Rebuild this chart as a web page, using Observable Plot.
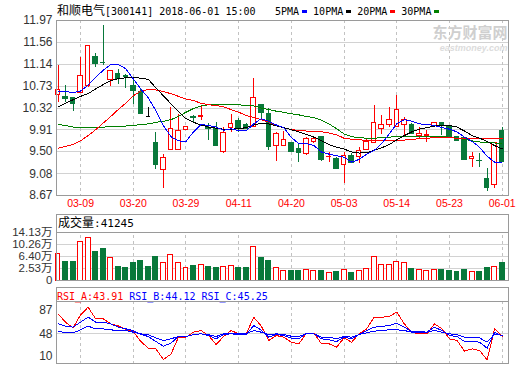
<!DOCTYPE html>
<html>
<head>
<meta charset="utf-8">
<script src="https://cdn.jsdelivr.net/npm/d3@7"></script>
<script src="https://cdn.jsdelivr.net/npm/@observablehq/plot@0.6"></script>
<style>
html,body{margin:0;padding:0;background:#fff;}
#chart{position:relative;width:520px;height:365px;overflow:hidden;background:#fff;}
.hdr{position:absolute;white-space:pre;color:#000;line-height:14px;z-index:5;}
.cjk{font-family:"Noto Sans CJK SC",sans-serif;font-size:12px;}
.mono{font-family:"DejaVu Sans Mono",monospace;font-size:10px;}
</style>
</head>
<body>
<div id="chart"></div>
<script>
// ---------- data ----------
const stockName = "和顺电气";
const stockCode = "300141";
const stamp = "2018-06-01 15:00";
const dates = ["03-06","03-07","03-08","03-09","03-12","03-13","03-14","03-15","03-16","03-19",
  "03-20","03-21","03-22","03-23","03-26","03-27","03-28","03-29","03-30","04-02",
  "04-03","04-04","04-09","04-10","04-11","04-12","04-13","04-16","04-17","04-18",
  "04-19","04-20","04-23","04-24","04-25","04-26","04-27","05-02","05-03","05-04",
  "05-07","05-08","05-09","05-10","05-11","05-14","05-15","05-16","05-17","05-18",
  "05-21","05-22","05-23","05-24","05-25","05-28","05-29","05-30","05-31","06-01"];
const opens = [10.557,10.525,10.506,10.607,10.726,11.279,11.17,10.852,10.965,10.92,
  10.726,10.62,10.16,9.665,9.143,9.52,9.52,9.91,10.15,10.15,
  9.94,9.916,9.489,9.947,10.067,10.004,9.96,10.368,10.211,9.602,
  9.602,9.665,9.539,9.457,9.677,9.772,9.39,9.351,9.238,9.413,
  9.395,9.52,9.665,9.929,10.004,9.96,10.004,9.991,9.784,9.80,
  9.972,10.042,9.96,9.772,9.753,9.351,9.325,8.986,8.86,9.885];
const highs = [11.122,10.745,10.51,11.28,11.48,11.35,11.876,11.01,11.04,10.95,
  10.90,10.68,10.337,9.853,9.445,10.337,10.199,9.98,10.18,10.35,
  10.02,10.04,9.96,10.199,10.117,10.02,10.871,10.37,10.305,9.866,
  9.885,9.665,9.646,9.772,9.784,9.78,9.489,9.395,9.489,9.457,
  9.57,9.721,10.368,10.18,10.337,10.557,10.136,10.023,9.96,9.897,
  10.05,10.05,9.97,9.78,9.76,9.476,9.47,9.175,9.66,9.96];
const lows = [10.431,10.43,10.255,10.59,10.70,11.09,11.12,10.726,10.764,10.68,
  10.387,10.199,10.16,9.156,8.798,9.52,9.52,9.90,10.05,10.09,
  9.71,9.60,9.457,9.853,9.866,9.92,9.96,10.117,9.52,9.319,
  9.60,9.48,9.30,9.426,9.646,9.319,9.30,9.156,8.892,9.27,
  9.282,9.52,9.665,9.822,9.96,9.96,9.803,9.822,9.74,9.677,
  9.96,9.803,9.76,9.69,9.34,9.194,9.206,8.754,8.798,9.30];
const closes = [10.663,10.494,10.40,10.915,11.48,11.153,11.16,11.009,10.87,10.90,
  10.632,10.199,10.16,9.238,9.382,9.916,9.885,9.97,10.14,10.16,
  9.92,9.602,9.847,10.023,9.929,9.929,10.513,10.224,9.583,9.822,
  9.709,9.489,9.47,9.74,9.74,9.332,9.40,9.175,9.413,9.282,
  9.508,9.677,10.042,10.004,10.086,10.274,10.098,9.834,9.834,9.81,
  10.042,9.991,9.772,9.696,9.344,9.395,9.315,8.81,9.658,9.30];
// volume, 万
const volumes = [7.20,4.43,4.43,11.15,12.33,7.63,8.70,5.71,3.14,2.61,
  4.21,4.75,3.14,6.03,4.11,6.67,4.32,2.82,3.46,3.68,
  3.14,2.82,3.04,3.36,2.82,2.61,9.44,5.81,4.75,2.82,
  1.86,1.86,1.86,2.08,1.86,1.86,1.12,1.54,2.08,1.12,
  1.86,2.50,6.24,3.78,3.78,4.64,4.32,2.50,2.08,1.86,
  2.18,2.18,1.86,1.54,2.18,1.44,1.54,2.61,3.14,4.12];
const ma5 = [10.63,10.63,10.61,10.64,10.75,10.90,11.03,11.14,11.14,11.06,
  10.87,10.68,10.51,10.27,9.99,9.78,9.70,9.69,9.87,10.01,
  9.99,9.96,9.90,9.93,9.89,9.89,10.02,10.12,10.07,10.00,
  9.95,9.76,9.65,9.65,9.61,9.49,9.45,9.42,9.39,9.30,
  9.35,9.45,9.52,9.65,9.83,10.02,10.10,10.07,10.02,10.01,
  9.99,9.95,9.92,9.87,9.77,9.69,9.58,9.41,9.30,9.30];
const ma10 = [10.34,10.41,10.475,10.54,10.59,10.68,10.76,10.84,10.87,10.89,
  10.90,10.88,10.86,10.70,10.55,10.40,10.25,10.12,10.05,10.00,
  9.96,9.94,9.92,9.92,9.93,9.95,10.00,10.035,10.02,9.985,
  9.95,9.91,9.87,9.82,9.77,9.70,9.63,9.58,9.545,9.49,
  9.47,9.48,9.52,9.57,9.63,9.72,9.80,9.87,9.92,9.95,
  9.98,10.00,9.99,9.96,9.885,9.80,9.75,9.69,9.61,9.55];
const ma20 = [9.56,9.595,9.63,9.70,9.80,9.91,10.035,10.16,10.29,10.41,
  10.55,10.64,10.67,10.66,10.63,10.59,10.54,10.49,10.46,10.41,
  10.38,10.37,10.34,10.29,10.24,10.18,10.14,10.10,10.055,9.99,
  9.95,9.91,9.90,9.885,9.88,9.87,9.85,9.815,9.75,9.73,
  9.72,9.71,9.70,9.70,9.70,9.71,9.715,9.73,9.74,9.75,
  9.76,9.76,9.76,9.75,9.75,9.74,9.74,9.74,9.74,9.74];
const ma30 = [10.01,9.99,9.96,9.95,9.95,9.95,9.96,9.965,9.97,9.98,
  9.99,10.01,10.02,10.05,10.07,10.10,10.16,10.24,10.31,10.36,
  10.38,10.39,10.39,10.39,10.38,10.37,10.36,10.32,10.29,10.26,
  10.24,10.21,10.19,10.16,10.14,10.09,10.02,9.93,9.83,9.78,
  9.76,9.75,9.75,9.76,9.77,9.78,9.79,9.79,9.79,9.79,
  9.79,9.79,9.77,9.75,9.73,9.70,9.68,9.665,9.66,9.66];
const rsiA = [81.4,67.5,58.0,79.7,92.6,73.0,73.0,64.7,61.3,55.2,
  51.8,35.1,23.9,22.8,5.0,13.9,42.4,42.4,50.7,53.5,
  45.1,30.1,43.5,53.5,47.9,47.9,75.8,60.8,36.8,45.1,
  42.4,34.0,31.2,49.0,49.0,31.2,31.2,25.6,41.2,34.0,
  47.9,56.3,75.8,75.8,77.0,84.2,64.7,50.7,47.9,47.9,
  64.7,56.3,39.6,36.8,18.9,22.8,20.0,4.4,56.3,43.91];
const rsiB = [64.7,60.8,59.1,67.5,75.8,67.5,67.5,64.7,59.1,56.3,
  53.5,46.8,43.5,35.1,27.3,32.3,43.5,43.5,46.8,47.9,
  45.1,39.6,46.8,47.9,46.8,46.8,61.9,54.1,42.4,46.8,
  45.1,40.7,39.6,49.0,47.9,39.6,37.9,35.1,42.4,39.6,
  46.8,53.5,59.1,60.2,61.9,65.8,59.1,51.8,51.8,50.7,
  59.1,53.5,45.1,43.5,35.1,35.1,34.0,23.9,50.7,44.12];
const rsiC = [52.4,49.6,49.6,54.6,60.8,56.3,56.3,54.6,53.5,53.5,
  50.7,47.9,46.3,41.2,36.8,39.6,43.5,43.5,46.8,47.9,
  46.3,43.5,47.9,47.9,47.9,47.9,53.5,50.7,46.3,47.9,
  46.8,44.0,43.5,47.9,47.9,42.4,42.4,39.6,43.5,42.4,
  46.8,49.6,52.4,53.5,54.6,54.6,53.5,50.7,50.7,50.7,
  53.5,50.7,47.9,46.3,42.4,42.4,41.2,34.0,47.9,45.25];
const priceTicks = [8.67,9.08,9.50,9.91,10.32,10.73,11.14,11.56,11.97];
const volFloor = -1.34;               // bottom of the volume scale (labelled "0")
const volTicks = [2.53,6.40,10.26,14.13];
const rsiTicks = [10,48,87];
const dateTicks = ["03-09","03-20","03-29","04-11","04-20","05-03","05-14","05-23","06-01"];
const maNames = ["5PMA","10PMA","20PMA","30PMA"];
const rsiNames = ["RSI_A","RSI_B","RSI_C"];
const volLabel = "成交量";
const lastVolume = "41245";

// ---------- styles ----------
const RED = "#ff0000", GREEN = "#08783a", FLAT = "#000000";
const MA_COLORS = ["#0000ff", "#000000", "#ff0000", "#008000"];
const RSI_COLORS = ["#ff0000", "#0000ff", "#0000ff"];
const FRAME = "#9a9a9a", GRID = "#d2d2d2", DASH = "#c2c2c2";
const LABEL_FONT = "Liberation Sans, Arial, sans-serif";

const idx = d3.range(dates.length);
const candles = dates.map((date, i) => ({i, date, open: opens[i], high: highs[i], low: lows[i], close: closes[i], vol: volumes[i]}));
const tickIdx = dateTicks.map(d => dates.indexOf(d));
const candleColor = d => d.close > d.open ? RED : d.close < d.open ? GREEN : FLAT;
const volColor = d => d.close > d.open ? RED : GREEN;
const xOpts = {type: "linear", domain: [-0.2, dates.length - 0.16], axis: null};
const common = {
  width: 520, marginLeft: 56, marginRight: 12,
  color: {type: "identity"},
  style: {background: "transparent", overflow: "visible"}
};
const crisp = {shapeRendering: "crispEdges"};
const dashRule = {stroke: DASH, strokeDasharray: "3,3", ...crisp};
const yLabel = (fmt) => ({frameAnchor: "left", dx: -4, textAnchor: "end", text: fmt, fontSize: 12, fontFamily: LABEL_FONT, fill: "#333"});

// ---------- main price panel ----------
const mainPlot = Plot.plot({
  ...common, height: 211, marginTop: 20, marginBottom: 16,
  x: xOpts,
  y: {domain: [priceTicks[0], priceTicks[priceTicks.length - 1]], range: [195, 20], axis: null},
  marks: [
    Plot.ruleY(priceTicks, {stroke: GRID, ...crisp}),
    Plot.ruleX(tickIdx, {x: d => d, ...dashRule}),
    Plot.text(["东方财富网"], {frameAnchor: "top-right", text: d => d, dx: -1, dy: 7, textAnchor: "end", fontSize: 15, fontWeight: "bold", fontFamily: "Noto Sans CJK SC", fill: "#cfcfcf"}),
    Plot.text(["eastmoney.com"], {frameAnchor: "top-right", text: d => d, dx: -1, dy: 24, textAnchor: "end", fontSize: 9, fontWeight: "bold", fontStyle: "italic", fontFamily: LABEL_FONT, fill: "#dcdcdc"}),
    Plot.ruleX(candles, {x: "i", y1: "low", y2: "high", stroke: candleColor, ...crisp}),
    Plot.rect(candles, {x1: d => d.i - 0.3, x2: d => d.i + 0.3, y1: "open", y2: "close",
      fill: d => d.close > d.open ? "#ffffff" : candleColor(d), stroke: candleColor, ...crisp}),
    Plot.ruleY(candles.filter(d => d.close === d.open), {x1: d => d.i - 0.3, x2: d => d.i + 0.3, y: "close", stroke: candleColor, ...crisp}),
    ...[ma30, ma20, ma10, ma5].map((ma, k) =>
      Plot.line(idx, {x: d => d, y: d => ma[d], stroke: MA_COLORS[3 - k], strokeWidth: 1, shapeRendering: "crispEdges"})),
    Plot.frame({stroke: FRAME, ...crisp}),
    Plot.text(priceTicks, {y: d => d, ...yLabel(d => d.toFixed(2))}),
    Plot.text(tickIdx, {x: d => d, frameAnchor: "bottom", dy: 11, text: d => dates[d], fontSize: 10.5, fontFamily: LABEL_FONT, fill: RED})
  ]
});

// ---------- volume panel ----------
const volTop = volTicks[volTicks.length - 1];
const volPlot = Plot.plot({
  ...common, height: 72, marginTop: 2.5, marginBottom: 3,
  x: xOpts,
  y: {domain: [volFloor, volTop], range: [69, 20.7], axis: null},
  marks: [
    Plot.ruleY(volTicks.slice(0, -1), {stroke: GRID, ...crisp}),
    Plot.ruleX(tickIdx, {x: d => d, y1: volFloor, y2: volTop, ...dashRule}),
    Plot.rect(candles, {x1: d => d.i - 0.33, x2: d => d.i + 0.33, y1: volFloor, y2: "vol",
      fill: d => d.close > d.open ? "#ffffff" : volColor(d), stroke: volColor, ...crisp}),
    Plot.frame({stroke: FRAME, ...crisp}),
    Plot.frame({stroke: FRAME, insetTop: 18.2, ...crisp}),
    Plot.text([volFloor, ...volTicks], {y: d => d, ...yLabel(d => d === volFloor ? "0" : d.toFixed(2) + "万"), fontSize: 11.5, fontFamily: "Liberation Sans, Noto Sans CJK SC, sans-serif"})
  ]
});

// ---------- RSI panel ----------
const rsiSeries = [rsiA, rsiB, rsiC];
const rsiPlot = Plot.plot({
  ...common, height: 82, marginTop: 4.3, marginBottom: 1.7,
  x: xOpts,
  y: {domain: [rsiTicks[0], rsiTicks[rsiTicks.length - 1]], range: [73, 27], axis: null},
  marks: [
    Plot.ruleY([rsiTicks[1]], {stroke: GRID, ...crisp}),
    Plot.ruleX(tickIdx, {x: d => d, insetTop: 13.7, ...dashRule}),
    ...rsiSeries.map((s, k) =>
      Plot.line(idx, {x: d => d, y: d => s[d], stroke: RSI_COLORS[k], strokeWidth: 1, shapeRendering: "crispEdges"})),
    Plot.frame({stroke: FRAME, ...crisp}),
    Plot.frame({stroke: FRAME, insetTop: 13.7, ...crisp}),
    Plot.text(rsiTicks, {y: d => d, ...yLabel(d => String(d))})
  ]
});

// ---------- assemble ----------
const chart = document.getElementById("chart");
function place(node, top) {
  node.style.position = "absolute";
  node.style.left = "0px";
  node.style.top = top + "px";
  chart.appendChild(node);
}
place(mainPlot, 0);
place(volPlot, 211);
place(rsiPlot, 283);

function header(left, top) {
  const div = document.createElement("div");
  div.className = "hdr";
  div.style.left = left + "px";
  div.style.top = top + "px";
  chart.appendChild(div);
  return div;
}
function span(parent, text, cls, color) {
  const s = document.createElement("span");
  s.className = cls;
  s.textContent = text;
  if (color) s.style.color = color;
  parent.appendChild(s);
  return s;
}
// title
const t = header(57, 3);
span(t, stockName, "cjk");
span(t, "[" + stockCode + "] " + stamp, "mono");
// legend
const lg = header(275, 3);
maNames.forEach((n, k) => {
  span(lg, n, "mono");
  const sw = document.createElement("span");
  sw.style.cssText = `display:inline-block;width:5px;height:3px;background:${MA_COLORS[k]};margin:0 6px 0 3px;vertical-align:middle;`;
  lg.appendChild(sw);
});
// volume header
const vh = header(58, 215);
span(vh, volLabel, "cjk");
const vs = span(vh, ":" + lastVolume, "mono");
vs.style.fontSize = "11px";
// RSI header
const rh = header(57, 288);
const rsiLast = rsiSeries.map(s => s[s.length - 1]);
rsiNames.forEach((n, k) => {
  span(rh, n + ":" + rsiLast[k].toFixed(2) + (k < rsiNames.length - 1 ? " " : ""), "mono", RSI_COLORS[k]);
});
</script>
</body>
</html>
